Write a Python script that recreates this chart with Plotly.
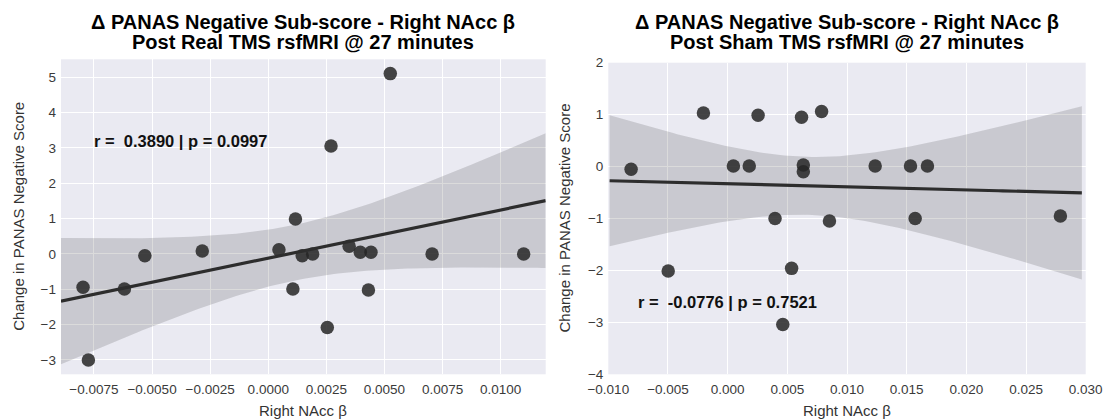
import numpy as np
import plotly.graph_objects as go

# ---- data -------------------------------------------------------------
real_beta = [-0.00797, -0.00774, -0.00619, -0.00531, -0.00284, 0.00046, 0.00106,
             0.00117, 0.00146, 0.00191, 0.00254, 0.00270, 0.00348, 0.00396,
             0.00431, 0.00442, 0.00525, 0.00705, 0.01099]
real_delta = [-0.94, -3.00, -0.99, -0.05, 0.08, 0.12, -0.99,
              0.99, -0.05, 0.00, -2.08, 3.05, 0.22, 0.05,
              -1.02, 0.05, 5.10, 0.00, 0.00]

sham_beta = [-0.00809, -0.00498, -0.00203, 0.00048, 0.00181, 0.00255, 0.00397,
             0.00462, 0.00536, 0.00619, 0.00634, 0.00634, 0.00787, 0.00853,
             0.01236, 0.01532, 0.01571, 0.01674, 0.02788]
sham_delta = [-0.05, -2.01, 1.03, 0.01, 0.01, 0.99, -1.00,
              -3.04, -1.96, 0.95, 0.03, -0.10, 1.06, -1.05,
              0.01, 0.01, -1.00, 0.01, -0.95]

titles = [
    ["Δ PANAS Negative Sub-score - Right NAcc β", "Post Real TMS rsfMRI @ 27 minutes"],
    ["Δ PANAS Negative Sub-score - Right NAcc β", "Post Sham TMS rsfMRI @ 27 minutes"],
]
stats_text = ["r =  0.3890 | p = 0.0997", "r =  -0.0776 | p = 0.7521"]
stats_pos = [(-0.0076, 3.2), (-0.0077, -2.6)]

x_label = "Right NAcc β"
y_label = "Change in PANAS Negative Score"

real_xticks = [-0.0075, -0.0050, -0.0025, 0.0, 0.0025, 0.0050, 0.0075, 0.0100]
real_yticks = [-3, -2, -1, 0, 1, 2, 3, 4, 5]
sham_xticks = [-0.010, -0.005, 0.0, 0.005, 0.010, 0.015, 0.020, 0.025, 0.030]
sham_yticks = [-4, -3, -2, -1, 0, 1, 2]

# ---- styling ----------------------------------------------------------
W, H = 1103, 420
BG = "#EAEAF2"
FONT = "Liberation Sans, Arial, sans-serif"
POINT = "rgba(38,38,38,0.85)"
LINE = "rgb(45,45,45)"
BAND = "rgba(30,30,30,0.16)"
T_975 = 2.110  # two-sided 95% t quantile, 17 dof


def padded(lo, hi, frac=0.05):
    span = hi - lo
    return lo - frac * span, hi + frac * span


def fit_with_band(x, y, x0, x1):
    x = np.asarray(x, float)
    y = np.asarray(y, float)
    n = len(x)
    slope, intercept = np.polyfit(x, y, 1)
    resid = y - (slope * x + intercept)
    s = np.sqrt(np.sum(resid ** 2) / (n - 2))
    xbar = x.mean()
    sxx = np.sum((x - xbar) ** 2)
    grid = np.linspace(x0, x1, 120)
    yhat = slope * grid + intercept
    half = T_975 * s * np.sqrt(1.0 / n + (grid - xbar) ** 2 / sxx)
    return grid, yhat, yhat - half, yhat + half


# plot-area rectangles in pixels: (left, right, top, bottom)
boxes = [(61, 545.7, 59.3, 374.3), (608.3, 1085.7, 62.7, 374.3)]

fig = go.Figure()

panels = [
    (real_beta, real_delta, "x", "y"),
    (sham_beta, sham_delta, "x2", "y2"),
]

for i, (bx, dy, xa, ya) in enumerate(panels):
    x0, x1 = padded(min(bx), max(bx))
    grid, yhat, lo, hi = fit_with_band(bx, dy, x0, x1)
    fig.add_trace(go.Scatter(x=grid, y=hi, mode="lines", line=dict(width=0),
                             hoverinfo="skip", showlegend=False, xaxis=xa, yaxis=ya))
    fig.add_trace(go.Scatter(x=grid, y=lo, mode="lines", line=dict(width=0),
                             fill="tonexty", fillcolor=BAND,
                             hoverinfo="skip", showlegend=False, xaxis=xa, yaxis=ya))
    fig.add_trace(go.Scatter(x=bx, y=dy, mode="markers",
                             marker=dict(size=13.5, color=POINT, line=dict(width=0)),
                             showlegend=False, xaxis=xa, yaxis=ya))
    fig.add_trace(go.Scatter(x=grid, y=yhat, mode="lines",
                             line=dict(color=LINE, width=3.2),
                             showlegend=False, xaxis=xa, yaxis=ya))

real_xr = padded(min(real_beta), max(real_beta))
real_yr = padded(min(real_delta), max(real_delta))

axis_common = dict(
    automargin=False,
    showgrid=True, gridcolor="white", gridwidth=1.4,
    zeroline=False, showline=False, ticks="",
    tickfont=dict(family=FONT, size=13.5, color="#3a3a3a"),
)
x_common = dict(axis_common, ticklabelstandoff=5)
y_common = dict(axis_common, ticklabelstandoff=4)


def dom_x(b):
    return [b[0] / W, b[1] / W]


def dom_y(b):
    return [1 - b[3] / H, 1 - b[2] / H]


fig.update_layout(
    template="none",
    width=W, height=H,
    margin=dict(l=0, r=0, t=0, b=0, autoexpand=False),
    paper_bgcolor="white",
    plot_bgcolor=BG,
    showlegend=False,
    xaxis=dict(domain=dom_x(boxes[0]), range=list(real_xr), anchor="y",
               tickvals=real_xticks, tickformat=".4f", **x_common),
    yaxis=dict(domain=dom_y(boxes[0]), range=list(real_yr), anchor="x",
               tickvals=real_yticks, tickformat="d", **y_common),
    xaxis2=dict(domain=dom_x(boxes[1]), range=[-0.0100001, 0.0300001], anchor="y2",
                tickvals=sham_xticks, tickformat=".3f", **x_common),
    yaxis2=dict(domain=dom_y(boxes[1]), range=[-4.00001, 2.00001], anchor="x2",
                tickvals=sham_yticks, tickformat="d", **y_common),
)

annotations = []
for i, b in enumerate(boxes):
    cx = (b[0] + b[1]) / 2 / W
    for j, line in enumerate(titles[i]):
        annotations.append(dict(
            text=f"<b>{line}</b>", x=cx, y=1 - (22 + 20.5 * j) / H,
            xref="paper", yref="paper", xanchor="center", yanchor="middle",
            showarrow=False, font=dict(family=FONT, size=20, color="#000000")))
    # axis titles
    annotations.append(dict(
        text=x_label, x=cx, y=1 - 410 / H, xref="paper", yref="paper",
        xanchor="center", yanchor="middle", showarrow=False,
        font=dict(family=FONT, size=15, color="#333333")))
    annotations.append(dict(
        text=y_label, x=(19 if i == 0 else 564) / W, y=1 - ((b[2] + b[3]) / 2) / H,
        xref="paper", yref="paper", xanchor="center", yanchor="middle",
        textangle=-90, showarrow=False,
        font=dict(family=FONT, size=15, color="#333333")))
    # correlation statistics
    sx, sy = stats_pos[i]
    annotations.append(dict(
        text=f"<b>{stats_text[i]}</b>", x=sx, y=sy,
        xref="x" if i == 0 else "x2", yref="y" if i == 0 else "y2",
        xanchor="left", yanchor="middle", showarrow=False,
        font=dict(family=FONT, size=16.5, color="#111111")))

fig.update_layout(annotations=annotations)

fig.write_html("out.html")
